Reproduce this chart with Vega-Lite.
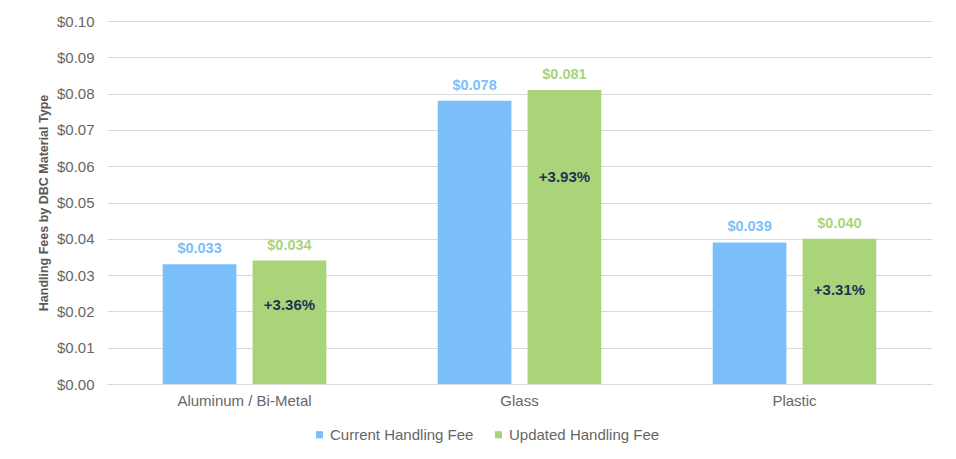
{
  "$schema": "https://vega.github.io/schema/vega-lite/v6.json",
  "autosize": {"type": "none"},
  "width": 825,
  "height": 363,
  "padding": {"left": 107, "top": 21, "right": 24, "bottom": 75},
  "background": "white",
  "config": {
    "font": "Liberation Sans",
    "view": {"stroke": null},
    "axis": {"labelFont": "Liberation Sans", "titleFont": "Liberation Sans"},
    "axisY": {
      "titleFontSize": 12.5, "titleFontWeight": "bold", "titleColor": "#595959",
      "titlePadding": 6, "labelOverlap": false,
      "labelFontSize": 15, "labelColor": "#666666", "labelPadding": 13,
      "ticks": false, "domain": false, "gridColor": "#D9D9D9", "gridWidth": 1
    }
  },
  "datasets": {
    "fees": [
      {"material": "Aluminum / Bi-Metal", "series": "Current Handling Fee", "fee": 0.033},
      {"material": "Aluminum / Bi-Metal", "series": "Updated Handling Fee", "fee": 0.034},
      {"material": "Glass", "series": "Current Handling Fee", "fee": 0.078},
      {"material": "Glass", "series": "Updated Handling Fee", "fee": 0.081},
      {"material": "Plastic", "series": "Current Handling Fee", "fee": 0.039},
      {"material": "Plastic", "series": "Updated Handling Fee", "fee": 0.040}
    ],
    "changes": [
      {"material": "Aluminum / Bi-Metal", "series": "Updated Handling Fee", "pos": 0.0218, "pct": "+3.36%"},
      {"material": "Glass", "series": "Updated Handling Fee", "pos": 0.057, "pct": "+3.93%"},
      {"material": "Plastic", "series": "Updated Handling Fee", "pos": 0.026, "pct": "+3.31%"}
    ]
  },
  "encoding": {
    "x": {
      "field": "material", "type": "nominal",
      "sort": ["Aluminum / Bi-Metal", "Glass", "Plastic"],
      "scale": {"paddingInner": 0, "paddingOuter": 0},
      "axis": {
        "title": null, "labelAngle": 0, "labelFontSize": 15, "labelColor": "#666666",
        "labelPadding": 9, "ticks": false, "domainColor": "#D9D9D9", "domainWidth": 1
      }
    },
    "xOffset": {
      "field": "series", "type": "nominal",
      "sort": ["Current Handling Fee", "Updated Handling Fee"],
      "scale": {"paddingInner": 0.18, "paddingOuter": 0.62}
    }
  },
  "layer": [
    {
      "data": {"name": "fees"},
      "mark": {"type": "bar"},
      "encoding": {
        "y": {
          "field": "fee", "type": "quantitative",
          "scale": {"domain": [0, 0.1], "nice": false},
          "axis": {
            "title": "Handling Fees by DBC Material Type",
            "format": "$.2f", "values": [0, 0.01, 0.02, 0.03, 0.04, 0.05, 0.06, 0.07, 0.08, 0.09, 0.1]
          }
        },
        "color": {
          "field": "series", "type": "nominal",
          "sort": ["Current Handling Fee", "Updated Handling Fee"],
          "scale": {"domain": ["Current Handling Fee", "Updated Handling Fee"], "range": ["#7BBFFA", "#A9D47A"]},
          "legend": {
            "title": null, "orient": "none", "direction": "horizontal",
            "legendX": 205, "legendY": 406,
            "symbolType": "square", "symbolSize": 50, "symbolStrokeWidth": 0,
            "labelFontSize": 15, "labelColor": "#666666", "labelOffset": 3,
            "columnPadding": 17
          }
        }
      }
    },
    {
      "data": {"name": "fees"},
      "mark": {"type": "text", "fontWeight": "bold", "fontSize": 14.5, "baseline": "alphabetic", "dy": -11},
      "encoding": {
        "y": {
          "field": "fee", "type": "quantitative",
          "axis": {
            "title": "Handling Fees by DBC Material Type",
            "format": "$.2f", "values": [0, 0.01, 0.02, 0.03, 0.04, 0.05, 0.06, 0.07, 0.08, 0.09, 0.1]
          }
        },
        "text": {"field": "fee", "type": "quantitative", "format": "$.3f"},
        "color": {"field": "series", "type": "nominal", "legend": null}
      }
    },
    {
      "data": {"name": "changes"},
      "mark": {"type": "text", "fontWeight": "bold", "fontSize": 15, "color": "#1B3553", "baseline": "middle"},
      "encoding": {
        "y": {
          "field": "pos", "type": "quantitative",
          "axis": {
            "title": "Handling Fees by DBC Material Type",
            "format": "$.2f", "values": [0, 0.01, 0.02, 0.03, 0.04, 0.05, 0.06, 0.07, 0.08, 0.09, 0.1]
          }
        },
        "text": {"field": "pct", "type": "nominal"}
      }
    }
  ]
}
